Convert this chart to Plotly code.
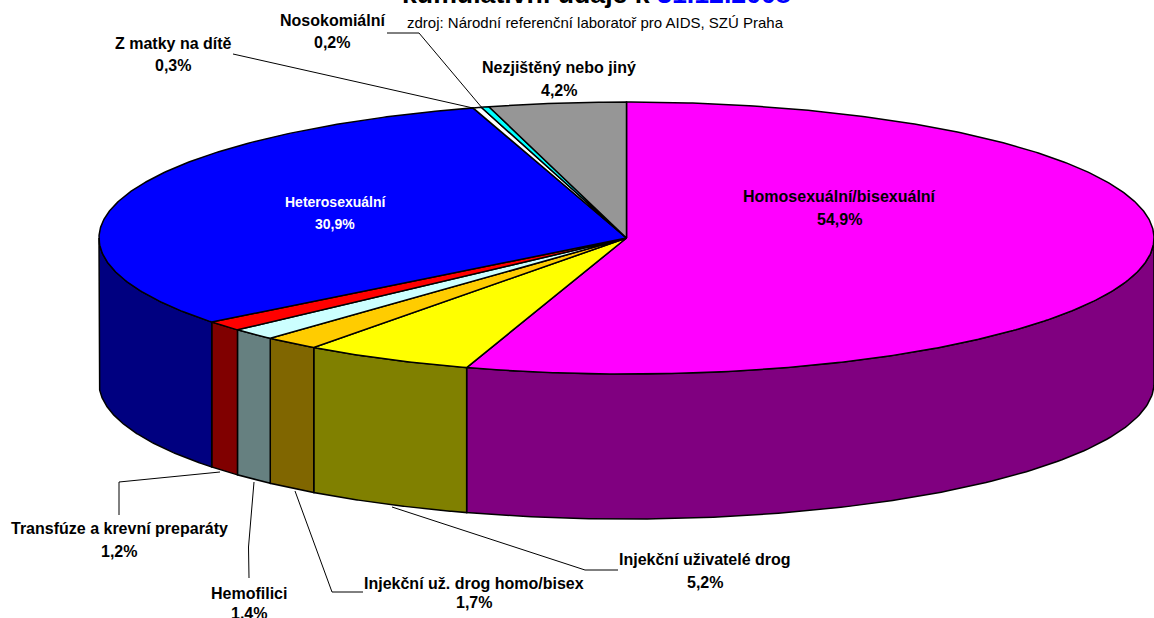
import numpy as np
import plotly.graph_objects as go

# --- data ---
categories = ["Homosexuální/bisexuální", "Injekční uživatelé drog", "Injekční už. drog homo/bisex",
              "Hemofilici", "Transfúze a krevní preparáty", "Heterosexuální",
              "Z matky na dítě", "Nosokomiální", "Nezjištěný nebo jiný"]
values = [54.9, 5.2, 1.7, 1.4, 1.2, 30.9, 0.26, 0.24, 4.2]
top_colors = ["#FF00FF", "#FFFF00", "#FFCC00", "#CCFFFF", "#FF0000", "#0000FF", "#FFFFFF", "#00FFFF", "#969696"]
side_colors = ["#800080", "#808000", "#806600", "#668080", "#800000", "#000080", "#808080", "#008080", "#4B4B4B"]
label_colors = ["black", "black", "black", "black", "black", "white", "black", "black", "black"]
label_sizes = [16, 16, 16, 16, 16, 14, 16, 16, 16]
title_black = "kumulativní údaje k "
title_blue = "31.12.2008"
subtitle = "zdroj: Národní referenční laboratoř pro AIDS, SZÚ Praha"

# --- layout geometry (pixels of the page) ---
W, H = 1154, 618
CX, CY, RX, RY, DEPTH = 626.5, 238, 527.5, 136, 145
label_pos = [(839, 196, 219), (705, 559, 582), (474, 583, 602), (249, 593, 613), (119, 528, 551),
             (335, 202, 224), (173, 43, 65), (332, 20, 42), (559, 67, 90)]
leaders = [
    [(618, 570), (585, 570), (392, 507)],
    [(363, 592), (332, 592), (295, 491)],
    [(249, 578), (248.5, 547), (254, 482)],
    [(119, 515), (119, 482), (220, 472)],
    [(233, 54), (473, 108)],
    [(387, 33), (419, 33), (483, 109)],
]


def ex(t):
    return CX + RX * np.sin(t)


def ey(t):
    return CY - RY * np.cos(t)


fig = go.Figure()
total = sum(values)
edges = np.concatenate([[0], np.cumsum(values)]) / total * 2 * np.pi

# front wall, one piece per slice
for i, (a, b) in enumerate(zip(edges[:-1], edges[1:])):
    lo, hi = max(a, np.pi / 2), min(b, 3 * np.pi / 2)
    if hi <= lo:
        continue
    t = np.linspace(lo, hi, 120)
    xs = np.concatenate([ex(t), ex(t)[::-1], ex(t)[:1]])
    ys = np.concatenate([ey(t), ey(t)[::-1] + DEPTH, ey(t)[:1]])
    fig.add_trace(go.Scatter(x=xs, y=ys, mode="lines", fill="toself", fillcolor=side_colors[i],
                             line=dict(color="black", width=1.5), hoverinfo="skip", showlegend=False))

# top face
for i, (a, b) in enumerate(zip(edges[:-1], edges[1:])):
    t = np.linspace(a, b, max(4, int((b - a) * 120)))
    xs = np.concatenate([[CX], ex(t), [CX]])
    ys = np.concatenate([[CY], ey(t), [CY]])
    fig.add_trace(go.Scatter(x=xs, y=ys, mode="lines", fill="toself", fillcolor=top_colors[i],
                             line=dict(color="black", width=1.5), hoverinfo="skip", showlegend=False))

# leader lines
for pts in leaders:
    d = "M " + " L ".join(f"{x} {y}" for x, y in pts)
    fig.add_shape(type="path", path=d, xref="x", yref="y", line=dict(color="black", width=1))

FONT = "Liberation Sans, Arial, sans-serif"
for i, name in enumerate(categories):
    cx, y1, y2 = label_pos[i]
    pct = f"{values[i]:.1f}".replace(".", ",") + "%"
    for txt, yy in ((name, y1), (pct, y2)):
        fig.add_annotation(x=cx, y=yy, text=f"<b>{txt}</b>", showarrow=False, xanchor="center", yanchor="middle",
                           xref="x", yref="y", font=dict(family=FONT, size=label_sizes[i], color=label_colors[i]))

fig.add_annotation(x=596, y=1 + 5.5 / H, text=f"<b>{title_black}<span style='color:#0000FF'>{title_blue}</span></b>",
                   showarrow=False, xanchor="center", yanchor="middle", xref="x", yref="paper",
                   font=dict(family=FONT, size=26.7, color="black"))
fig.add_annotation(x=595, y=22, text=subtitle, showarrow=False, xanchor="center", yanchor="middle",
                   xref="x", yref="y", font=dict(family=FONT, size=15, color="black"))

fig.update_layout(width=W, height=H, margin=dict(l=0, r=0, t=0, b=0), paper_bgcolor="white", plot_bgcolor="white",
                  showlegend=False,
                  xaxis=dict(range=[0, W], visible=False, fixedrange=True),
                  yaxis=dict(range=[H, 0], visible=False, fixedrange=True))
fig.write_html("out.html", post_script="document.body.style.margin='0';document.body.style.overflow='hidden';",
               config={"displayModeBar": False})
